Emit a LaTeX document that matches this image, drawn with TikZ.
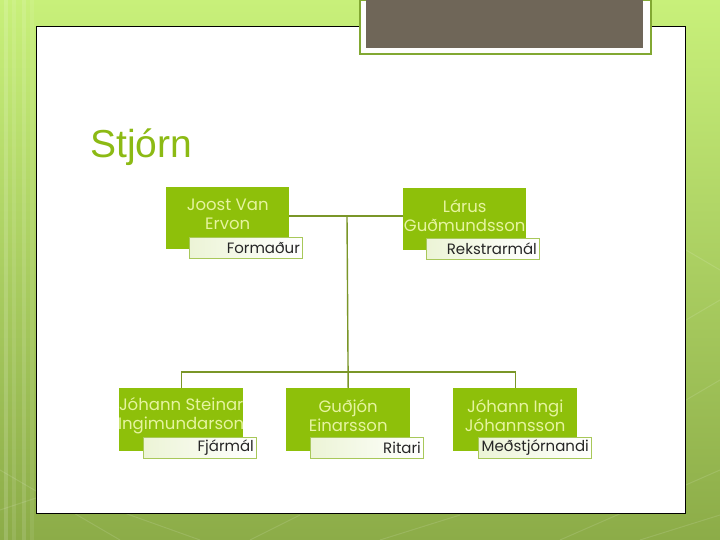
\documentclass[tikz,border=0pt]{standalone}
\usepackage{fontspec}
\setmainfont{Liberation Sans}
\newfontfamily\gothic{Poppins}
\usetikzlibrary{positioning,calc}
\definecolor{boxgreen}{RGB}{142,192,10}
\definecolor{titlegreen}{RGB}{140,186,20}
\definecolor{linegreen}{RGB}{122,150,40}
\definecolor{namecol}{RGB}{230,244,160}
\definecolor{lblborder}{RGB}{168,200,90}
\definecolor{lblleft}{RGB}{236,244,214}
\definecolor{bgtop}{RGB}{200,240,122}
\definecolor{bgbot}{RGB}{140,172,72}
\definecolor{graybox}{RGB}{111,102,88}
\definecolor{grayframe}{RGB}{130,168,50}
\tikzset{
  greenbox/.style={fill=boxgreen, draw=none, minimum width=123pt, minimum height=62pt, inner sep=0pt, anchor=north west},
  nametext/.style={font=\gothic\fontsize{16.5}{19}\selectfont, text=namecol, align=center, inner sep=0pt},
  lblbox/.style={draw=lblborder, line width=0.8pt, left color=lblleft, right color=white, minimum width=113pt, minimum height=21pt, inner sep=2.5pt, anchor=north west, align=right, text width=108pt, font=\gothic\fontsize{15}{17}\selectfont, text=black!85},
  conn/.style={draw=linegreen, line width=1.4pt}
}
\begin{document}
\begin{tikzpicture}[x=1pt,y=-1pt]
\useasboundingbox (0,0) rectangle (720,540);
% background
\shade[top color=bgtop, bottom color=bgbot] (0,0) rectangle (720,540);
\foreach \xx/\op in {4/0.15,12/0.1,22/0.12,30/0.08} {
  \fill[white, opacity=\op] (\xx,0) rectangle (\xx+4,540);
}
\begin{scope}[white, opacity=0.12, line width=1pt]
  \draw (0,470) -- (120,540);
  \draw (0,510) -- (60,490) -- (200,540);
  \draw (380,540) -- (460,515);
  \draw (560,540) -- (720,470);
  \draw (686,320) -- (720,300);
  \draw (686,400) -- (720,380);
  \draw (686,250) -- (720,270);
  \draw (640,540) -- (720,515);
  \draw (250,540) -- (300,515);
\end{scope}
% panel
\node[draw=black, line width=0.8pt, fill=white, minimum width=649pt, minimum height=487pt, inner sep=0pt, anchor=north west] (panel) at (36,26) {};
% top gray box
\node[draw=grayframe, line width=2pt, fill=white!95!lblleft, minimum width=291pt, minimum height=54pt, inner sep=0pt, anchor=north west] (topframe) at (359,-1) {};
\node[fill=graybox, minimum width=277pt, minimum height=49pt, inner sep=0pt, anchor=north west] (topgray) at (366,-1) {};
% title
\node[anchor=base west, inner sep=0pt, text=titlegreen, font=\fontsize{39}{44}\selectfont] (title) at (90,158) {Stjórn};
% boxes
\node[greenbox] (b1) at (166,187) {};
\node[greenbox] (b2) at (403,188) {};
\node[greenbox, minimum width=124pt, minimum height=63pt] (b3) at (119,388) {};
\node[greenbox, minimum width=124pt, minimum height=63pt] (b4) at (286,388) {};
\node[greenbox, minimum width=124pt, minimum height=63pt] (b5) at (453,388) {};
% names
\node[nametext] (n1) at ($(b1.center)+(0,-4)$) {Joost Van\\Ervon};
\node[nametext] (n2) at ($(b2.center)+(0,-4)$) {Lárus\\Guðmundsson};
\node[nametext] (n3) at ($(b3.center)+(0,-4)$) {Jóhann Steinar\\Ingimundarson};
\node[nametext] (n4) at ($(b4.center)+(0,-4)$) {Guðjón\\Einarsson};
\node[nametext] (n5) at ($(b5.center)+(0,-4)$) {Jóhann Ingi\\Jóhannsson};
% labels
\node[lblbox] (l1) at (189,237) {Formaður};
\node[lblbox] (l2) at (426,238) {Rekstrarmál};
\node[lblbox] (l3) at (143,437) {Fjármál};
\node[lblbox] (l4) at (310,437) {Ritari};
\node[lblbox] (l5) at (478,437) {Meðstjórnandi};
% connectors
\coordinate (j) at (347,216);
\coordinate (bar) at (347,372);
\draw[conn] (b1.east |- j) -- (b2.west |- j);
\draw[conn] (j) -- (b4.north);
\draw[conn] (b3.north) |- (bar) -| (b5.north);
\end{tikzpicture}
\end{document}
